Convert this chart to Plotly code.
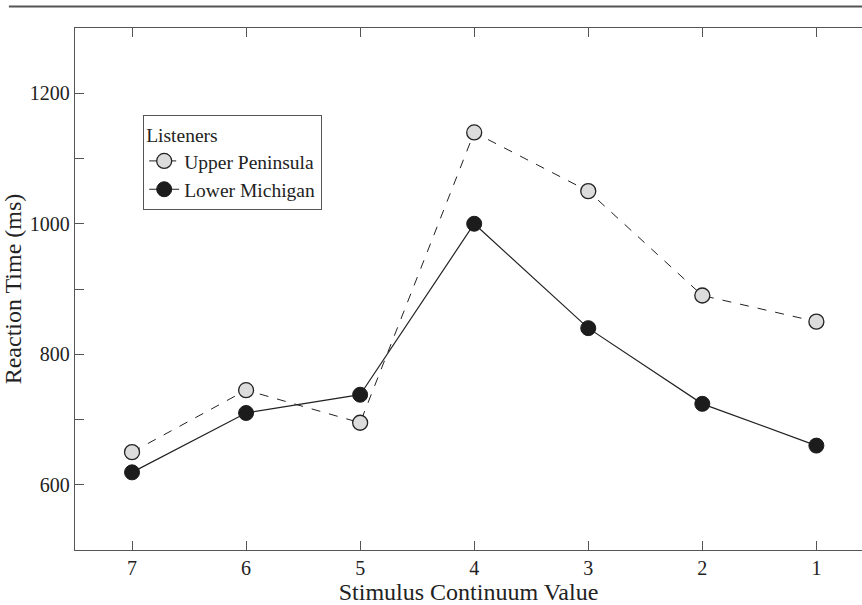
import plotly.graph_objects as go

categories = ["7", "6", "5", "4", "3", "2", "1"]
upper_peninsula = [650, 745, 695, 1140, 1050, 890, 850]
lower_michigan = [619, 710, 738, 1000, 840, 724, 660]
y_tick_vals = [600, 800, 1000, 1200]
y_tick_text = ["600", "800", "1000", "1200"]

FONT = "Liberation Serif"
AX = "#555555"

fig = go.Figure()
fig.add_trace(go.Scatter(
    x=categories, y=upper_peninsula, name="Upper Peninsula", mode="lines+markers",
    line=dict(color="#222222", width=1, dash="dash"),
    marker=dict(size=15, color="#dcdcdc", line=dict(color="#222222", width=1.3)),
))
fig.add_trace(go.Scatter(
    x=categories, y=lower_michigan, name="Lower Michigan", mode="lines+markers",
    line=dict(color="#222222", width=1.2),
    marker=dict(size=15, color="#1c1c1c", line=dict(color="#1c1c1c", width=1)),
))

fig.update_layout(
    width=862, height=605,
    margin=dict(l=75, r=0, t=28, b=55),
    plot_bgcolor="white", paper_bgcolor="white",
    font=dict(family=FONT, size=19, color="#222222"),
    showlegend=True,
    legend=dict(
        x=0.0864, y=0.833, xanchor="left", yanchor="top",
        bordercolor=AX, borderwidth=1.2, bgcolor="white",
        title=dict(text="Listeners", font=dict(family=FONT, size=19.5)),
        font=dict(family=FONT, size=19.5),
        tracegroupgap=0, itemwidth=30,
    ),
    xaxis=dict(
        type="category", range=[-0.5, 6.4],
        showline=True, linecolor=AX, linewidth=1.4, mirror="ticks",
        ticks="inside", ticklen=9, tickwidth=1.4, tickcolor=AX,
        showgrid=False, zeroline=False,
        tickfont=dict(family=FONT, size=20),
        title=dict(text="Stimulus Continuum Value", font=dict(family=FONT, size=24), standoff=1),
    ),
    yaxis=dict(
        range=[500, 1300],
        tickvals=y_tick_vals, ticktext=y_tick_text,
        showline=True, linecolor=AX, linewidth=1.4,
        ticks="inside", ticklen=9, tickwidth=1.4, tickcolor=AX,
        minor=dict(dtick=100, tick0=500, ticks="inside", ticklen=9, tickwidth=1.4, tickcolor=AX, showgrid=False),
        showgrid=False, zeroline=False,
        tickfont=dict(family=FONT, size=20),
        title=dict(text="Reaction Time (ms)", font=dict(family=FONT, size=24), standoff=1),
    ),
)

fig.add_shape(type="line", xref="paper", yref="paper",
              x0=-0.084, x1=1.0, y0=1.041, y1=1.041,
              line=dict(color=AX, width=2))

fig.write_html("out.html", config={"displayModeBar": False},
               post_script="document.body.style.margin='0';")
